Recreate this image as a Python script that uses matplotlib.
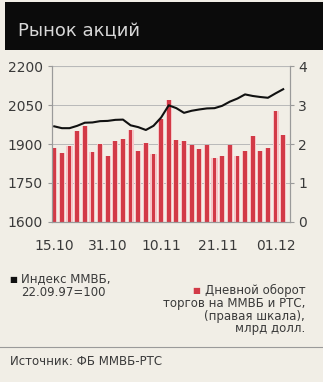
import matplotlib
matplotlib.use("Agg")
import matplotlib.pyplot as plt
from matplotlib.patches import Rectangle
import numpy as np

# дневной оборот торгов, млрд долл. (правая шкала)
turnover = [1.90, 1.77, 1.96, 2.33, 2.47, 1.80, 2.01, 1.68, 2.07, 2.13, 2.36,
            1.82, 2.02, 1.74, 2.65, 3.13, 2.11, 2.09, 1.97, 1.87, 1.98, 1.65,
            1.68, 1.97, 1.69, 1.83, 2.21, 1.81, 1.90, 2.86, 2.22]
# индекс ММВБ
micex = [1968, 1961, 1961, 1970, 1982, 1983, 1988, 1989, 1993, 1994, 1972,
         1965, 1954, 1970, 2002, 2049, 2038, 2020, 2028, 2033, 2037, 2038,
         2047, 2063, 2075, 2091, 2085, 2081, 2078, 2095, 2111]
date_pos = [0, 7, 14, 21.5, 29]
date_labels = ["15.10", "31.10", "10.11", "21.11", "01.12"]
left_ticks = [1600, 1750, 1900, 2050, 2200]
right_ticks = [0, 1, 2, 3, 4]

bg = "#f1eee6"
txt = "#3a3a3a"
red = "#d23a47"
plt.rcParams["font.family"] = ["Liberation Sans Narrow", "DejaVu Sans Condensed", "DejaVu Sans"]

fig = plt.figure(figsize=(3.23, 3.82), dpi=100)
fig.patch.set_facecolor(bg)

# шапка
fig.patches.append(Rectangle((0.015, 0.868), 0.985, 0.127, transform=fig.transFigure,
                             facecolor="#0b0b0b", edgecolor="none"))
fig.text(0.055, 0.905, "Рынок акций", color="#d8d8d8", fontsize=13)

x = np.arange(len(turnover))

ax = fig.add_axes([0.161, 0.419, 0.737, 0.408])
ax.set_facecolor(bg)
ax2 = ax.twinx()

ax2.bar(x, turnover, width=0.8, color="#f6c6c8", zorder=1)
ax2.bar(x, turnover, width=0.5, color=red, zorder=2)
ax2.set_ylim(0, 4)
ax2.set_yticks(right_ticks)
ax2.set_yticklabels([str(t) for t in right_ticks])

ax.set_zorder(ax2.get_zorder() + 1)
ax.patch.set_visible(False)
ax.plot(x, micex, color="#111111", lw=1.5, zorder=5)
ax.set_ylim(1600, 2200)
ax.set_yticks(left_ticks)
ax.set_xlim(-0.3, 30.9)
ax.set_xticks(date_pos)
ax.set_xticklabels(date_labels)

for t in left_ticks[1:]:
    ax2.axhline((t - 1600) / 150, color="#b9b9b9", lw=0.7, zorder=0)

for a in (ax, ax2):
    for s in a.spines.values():
        s.set_color("#9a9a9a")
        s.set_linewidth(0.8)
    a.spines["top"].set_visible(False)
    a.tick_params(colors="#9a9a9a", labelcolor=txt, labelsize=10, length=3, width=0.8)
ax2.axhline(4, color="#b9b9b9", lw=0.8, zorder=0)
ax.tick_params(axis="x", length=0, pad=12)
ax2.tick_params(axis="y", pad=3)

# легенда: квадратик ставится слева от первой строки
lbl1 = fig.text(0.065, 0.288, "Индекс ММВБ,", color=txt, fontsize=8.5, va="top")
fig.text(0.065, 0.252, "22.09.97=100", color=txt, fontsize=8.5, va="top")
fig.add_artist(plt.Annotation("■", xy=(0, 0.45), xycoords=lbl1, xytext=(-3, 0),
                              textcoords="offset points", ha="right", va="center",
                              color="#111111", fontsize=6))

lbl2 = fig.text(0.945, 0.258, "Дневной оборот", color=txt, fontsize=8.5,
                ha="right", va="top")
fig.text(0.945, 0.222, "торгов на ММВБ и РТС,\n(правая шкала),\nмлрд долл.",
         color=txt, fontsize=8.5, ha="right", va="top", multialignment="right",
         linespacing=0.95)
fig.add_artist(plt.Annotation("■", xy=(0, 0.45), xycoords=lbl2, xytext=(-3, 0),
                              textcoords="offset points", ha="right", va="center",
                              color=red, fontsize=6))

fig.add_artist(plt.Line2D([0.0, 1.0], [0.092, 0.092], color="#9a9a9a", lw=0.8))
fig.text(0.03, 0.045, "Источник: ФБ ММВБ-РТС", color=txt, fontsize=8.5)

fig.savefig("out.png", dpi=100, facecolor=bg)
